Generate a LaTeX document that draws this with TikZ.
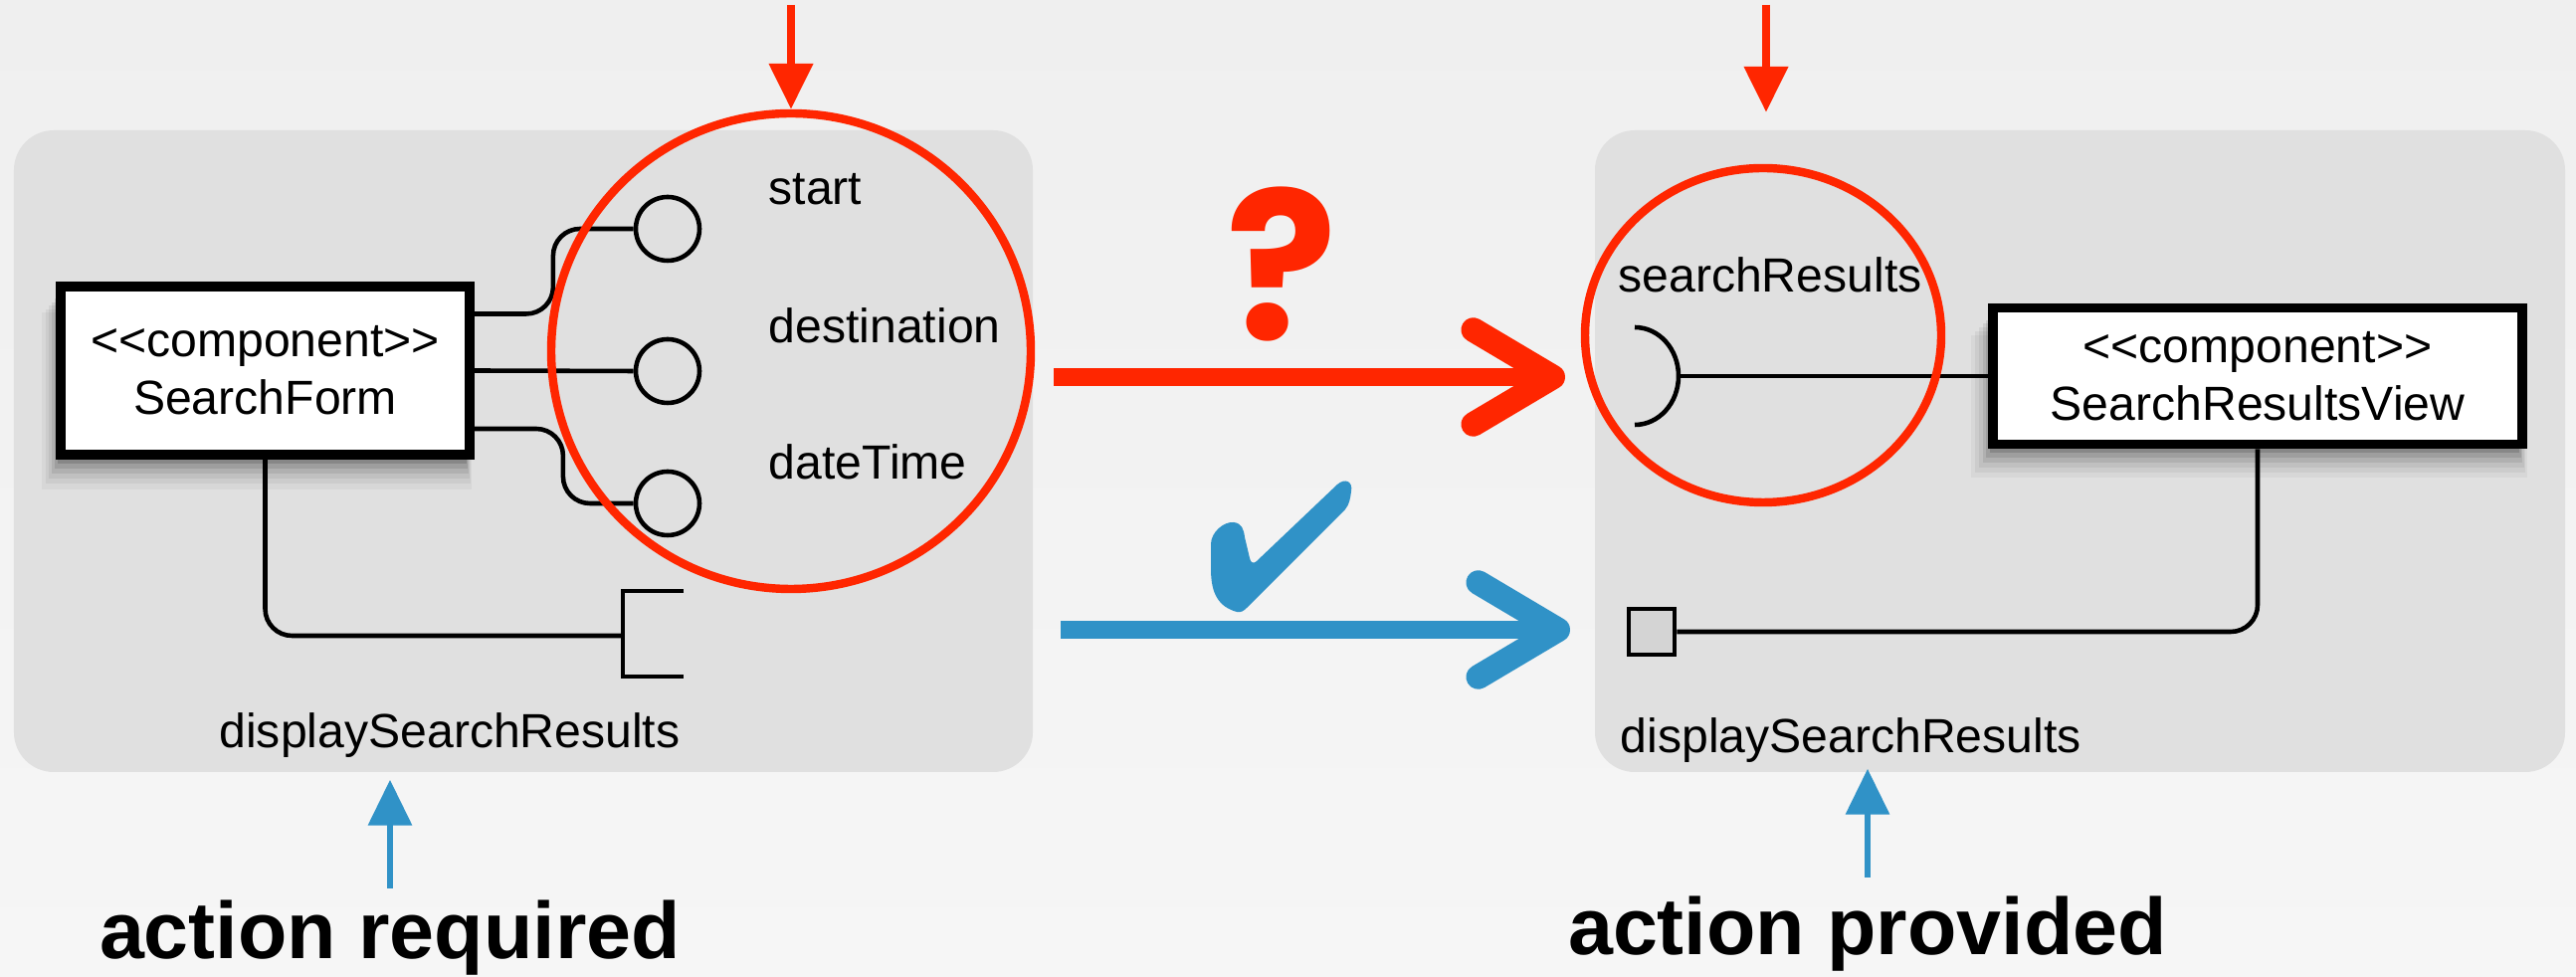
\documentclass[tikz,border=0pt]{standalone}
\usepackage{fontspec}
\setmainfont{Liberation Sans}
\newfontfamily\markfont{Poppins}
\usepackage{tikz}
\usetikzlibrary{positioning,arrows.meta,shapes.geometric,shadows}
\definecolor{alertred}{RGB}{255,38,0}
\definecolor{okblue}{RGB}{48,146,199}
\definecolor{panelgray}{RGB}{224,224,224}
\definecolor{portgray}{RGB}{212,212,212}
\definecolor{bgtop}{RGB}{239,239,239}
\definecolor{bgbottom}{RGB}{246,246,246}
\newcommand{\stereo}[1]{<\kern0pt<#1>\kern0pt>}

\begin{document}
\begin{tikzpicture}[>=Stealth,
  panel/.style={fill=panelgray, rounded corners=0.4cm, minimum height=6.45cm, inner sep=0pt},
  comp/.style={draw, line width=2.8pt, fill=white, align=center, font=\fontsize{13.7}{16.4}\selectfont,
    general shadow={fill=black, opacity=0.04, shadow xshift=-0.08cm, shadow yshift=-0.29cm, shadow scale=1.05},
    general shadow={fill=black, opacity=0.05, shadow xshift=-0.07cm, shadow yshift=-0.25cm, shadow scale=1.04},
    general shadow={fill=black, opacity=0.06, shadow xshift=-0.06cm, shadow yshift=-0.21cm, shadow scale=1.03},
    general shadow={fill=black, opacity=0.08, shadow xshift=-0.05cm, shadow yshift=-0.17cm, shadow scale=1.02},
    general shadow={fill=black, opacity=0.10, shadow xshift=-0.04cm, shadow yshift=-0.13cm, shadow scale=1.01},
    general shadow={fill=black, opacity=0.14, shadow xshift=-0.03cm, shadow yshift=-0.09cm}},
  wire/.style={line width=1.3pt, rounded corners=0.27cm},
  lolli/.style={circle, draw, line width=1.3pt, minimum size=0.64cm, inner sep=0pt},
  lbl/.style={font=\fontsize{13.7}{16.4}\selectfont, inner sep=0pt},
  ring/.style={ellipse, draw=alertred, line width=2.4pt, inner sep=0pt},
  pointer/.style={line width=2.2pt, -{Triangle[length=0.46cm, width=0.43cm]}},
  chalk/.style={line width=5pt, -{Straight Barb[length=0.8cm, width=0.95cm, line width=7pt, round]}},
  big/.style={font=\fontsize{23}{27}\selectfont\bfseries, inner sep=0pt, anchor=base}
]

% backdrop
\shade[top color=bgtop, bottom color=bgbottom] (0,0) rectangle (25.89,9.82);
\useasboundingbox (0,0) rectangle (25.89,9.82);

\node[panel, minimum width=10.24cm] (lpanel) at (5.26,5.285) {};
\node[panel, minimum width=9.75cm] (rpanel) at (20.905,5.285) {};

% required side
\node[comp, minimum width=4.11cm, minimum height=1.69cm] (form) at (2.665,6.095) {\stereo{component}\\SearchForm};

\node[lolli] (start) at (6.71,7.52) {};
\node[lolli] (dest) at (6.71,6.09) {};
\node[lolli] (date) at (6.71,4.76) {};

\draw[wire] ([yshift=0.57cm]form.east) -- ++(0.79,0) |- (start.west);
\draw[wire] (form.east) -- (dest.west);
\draw[wire] ([yshift=-0.585cm]form.east) -- ++(0.89,0) |- (date.west);

\node[lbl, anchor=west] (startlbl) at (7.72,7.92) {start};
\node[lbl, anchor=west] (destlbl) at (7.72,6.55) {destination};
\node[lbl, anchor=west] (datelbl) at (7.72,5.18) {dateTime};

\coordinate (reqport) at (6.26,3.43);
\draw[line width=1.3pt] (reqport) ++(0.61,0.45) -- ++(-0.61,0) -- ++(0,-0.86) -- ++(0.61,0);
\draw[wire] (form.south) |- (reqport);
\node[lbl] (reqname) at (4.52,2.43) {displaySearchResults};

% provided side
\node[comp, minimum width=5.32cm, minimum height=1.37cm] (resview) at (22.69,6.04) {\stereo{component}\\SearchResultsView};

\coordinate (sock) at (16.87,6.04);
\draw[line width=1.3pt] (sock) ++(-0.44,0.49) arc[start angle=90, end angle=-90, x radius=0.44, y radius=0.49];
\draw[wire] (sock) -- (resview.west);
\node[lbl] (sockname) at (17.79,7.06) {searchResults};

\node[draw, line width=1.3pt, fill=portgray, minimum size=0.46cm, inner sep=0pt] (port) at (16.60,3.47) {};
\draw[wire] (resview.south) |- (port.east);
\node[lbl, anchor=west] (provname) at (16.28,2.38) {displaySearchResults};

% highlights
\node[ring, minimum width=4.82cm, minimum height=4.78cm] (ringL) at (7.95,6.29) {};
\node[ring, minimum width=3.58cm, minimum height=3.36cm] (ringR) at (17.72,6.45) {};

\coordinate (topL) at (7.95,9.77);
\coordinate (topR) at (17.75,9.77);
\draw[pointer, alertred] (topL) -- (ringL.north);
\draw[pointer, alertred] (topR) -- ([yshift=0.52cm]ringR.north -| topR);

\coordinate (qfrom) at (10.59,6.03);
\coordinate (qto) at (15.73,6.03);
\draw[chalk, alertred] (qfrom) -- (qto);
\node[text=alertred, font=\markfont\bfseries\fontsize{59}{59}\selectfont, inner sep=0pt] (qmark) at (12.88,7.16) {?};

\coordinate (okfrom) at (10.66,3.49);
\coordinate (okto) at (15.78,3.49);
\draw[chalk, okblue] (okfrom) -- (okto);
% tick mark
\fill[okblue] (12.43,3.67) .. controls (12.25,3.72) and (12.17,3.85) .. (12.17,4.10)
  -- (12.17,4.35) .. controls (12.17,4.47) and (12.30,4.58) .. (12.40,4.57)
  .. controls (12.48,4.56) and (12.50,4.50) .. (12.51,4.42)
  -- (12.56,4.21) .. controls (12.57,4.16) and (12.60,4.15) .. (12.63,4.18)
  -- (13.44,4.95) .. controls (13.52,5.02) and (13.60,4.98) .. (13.58,4.88)
  .. controls (13.57,4.80) and (13.56,4.75) .. (13.52,4.70)
  -- (12.53,3.71) .. controls (12.50,3.68) and (12.47,3.66) .. (12.43,3.67) -- cycle;

% captions
\node[big] (actreq) at (3.92,0.18) {action required};
\node[big] (actprov) at (18.77,0.22) {action provided};
\draw[pointer, okblue, line width=1.9pt] ([yshift=0.12cm]actreq.north) -- ([yshift=-0.07cm]actreq.north |- lpanel.south);
\draw[pointer, okblue, line width=1.9pt] ([yshift=0.19cm]actprov.north) -- ([yshift=0.04cm]actprov.north |- rpanel.south);

\end{tikzpicture}
\end{document}
